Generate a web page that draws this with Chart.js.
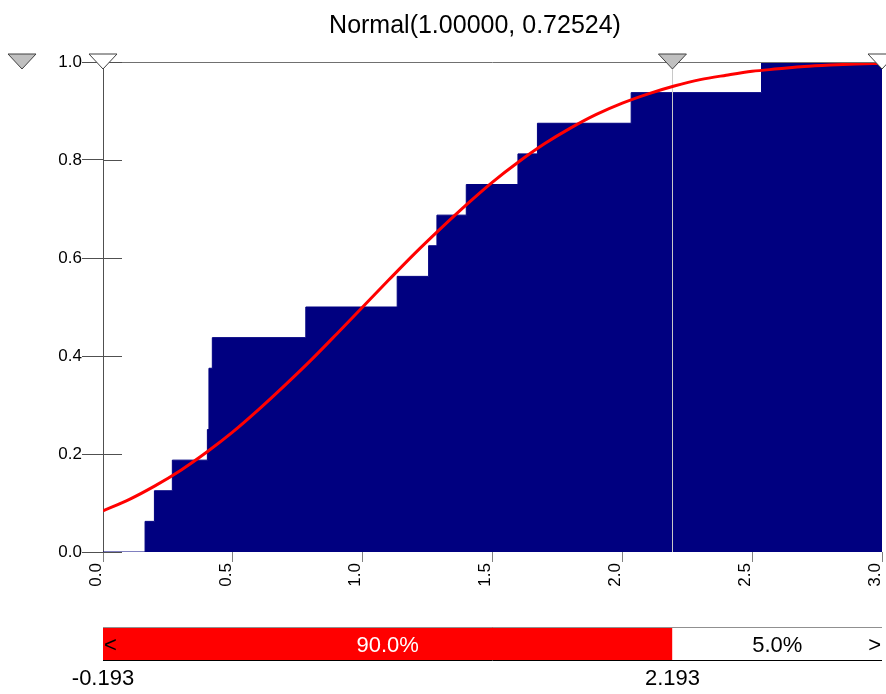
<!DOCTYPE html>
<html lang="en">
<head>
<meta charset="UTF-8">
<title>Normal(1.00000, 0.72524)</title>
<script src="https://cdn.jsdelivr.net/npm/chart.js"></script>
<style>
    body { margin: 0; background: #fff; }
    #wrap { position: relative; width: 886px; height: 694px; }
</style>
</head>
<body>
<div id="wrap"><canvas id="cdf-chart"></canvas></div>
<script>
// Empirical cumulative steps (sorted sample values, cumulative probability)
const stepX = [0.0, 0.162, 0.198, 0.267, 0.402, 0.408, 0.421, 0.781, 1.133, 1.254, 1.286, 1.399, 1.598, 1.673, 2.034, 2.536, 3.0];
const stepY = [0, 0.0625, 0.125, 0.1875, 0.25, 0.375, 0.4375, 0.5, 0.5625, 0.625, 0.6875, 0.75, 0.8125, 0.875, 0.9375, 1.0, 1.0];

// Fitted curve, every 0.1
const fitX = [0.0, 0.1, 0.2, 0.3, 0.4, 0.5, 0.6, 0.7, 0.8, 0.9, 1.0, 1.1, 1.2, 1.3, 1.4, 1.5,
              1.6, 1.7, 1.8, 1.9, 2.0, 2.1, 2.2, 2.3, 2.4, 2.5, 2.6, 2.7, 2.8, 2.9, 3.0];
const fitY = [0.084, 0.107, 0.135, 0.167, 0.204, 0.245, 0.291, 0.340, 0.391, 0.445, 0.500, 0.555, 0.609, 0.660, 0.709, 0.755,
              0.796, 0.833, 0.865, 0.893, 0.916, 0.935, 0.951, 0.964, 0.973, 0.981, 0.986, 0.991, 0.994, 0.996, 0.997];

// Tick values
const xTicks = [0, 0.5, 1.0, 1.5, 2.0, 2.5, 3.0];
const yTicks = [0, 0.2, 0.4, 0.6, 0.8, 1.0];

// Delimiters and the bar below the chart
const delimLeft = -0.193;
const delimRight = 2.193;
const barLabels = ['90.0%', '5.0%'];
const titleText = 'Normal(1.00000, 0.72524)';

const FONT = '"Liberation Sans", Arial, sans-serif';
Chart.defaults.font.family = FONT;
Chart.defaults.color = '#000';

function tri(ctx, cx, top, fill) {
    ctx.beginPath();
    ctx.moveTo(cx - 14, top);
    ctx.lineTo(cx + 14, top);
    ctx.lineTo(cx, top + 15);
    ctx.closePath();
    ctx.fillStyle = fill;
    ctx.fill();
    ctx.strokeStyle = '#404040';
    ctx.lineWidth = 1;
    ctx.stroke();
}

const overlay = {
    id: 'overlay',
    // delimiter line goes under the red curve
    beforeDatasetDraw(chart, args) {
        if (args.index !== 0) return;
        const { ctx, chartArea: { top, bottom }, scales: { x } } = chart;
        const px = Math.round(x.getPixelForValue(delimRight)) + 0.5;
        ctx.save();
        ctx.strokeStyle = '#c8c8c8';
        ctx.lineWidth = 1;
        ctx.beginPath();
        ctx.moveTo(px, top);
        ctx.lineTo(px, bottom);
        ctx.stroke();
        ctx.restore();
    },
    afterDraw(chart) {
        const { ctx, chartArea: { top, right, bottom, left }, scales: { x, y } } = chart;
        ctx.save();

        // top frame line
        ctx.strokeStyle = '#707070';
        ctx.lineWidth = 1;
        ctx.beginPath();
        ctx.moveTo(left, top + 0.5);
        ctx.lineTo(right, top + 0.5);
        ctx.stroke();

        // inner half of the y ticks
        ctx.strokeStyle = '#505050';
        yTicks.forEach(v => {
            const py = Math.round(y.getPixelForValue(v)) + 0.5;
            ctx.beginPath();
            ctx.moveTo(left, py);
            ctx.lineTo(left + 19, py);
            ctx.stroke();
        });

        // triangle markers
        tri(ctx, 22, top - 8, '#c0c0c0');
        tri(ctx, x.getPixelForValue(x.min), top - 8, '#fff');
        tri(ctx, x.getPixelForValue(x.max), top - 8, '#fff');
        tri(ctx, x.getPixelForValue(delimRight), top - 8, '#c0c0c0');

        // title
        ctx.fillStyle = '#000';
        ctx.font = '25px ' + FONT;
        ctx.textAlign = 'center';
        ctx.textBaseline = 'alphabetic';
        ctx.fillText(titleText, 475, 33);

        // delimiter bar
        const barTop = 627, barH = 33;
        const split = x.getPixelForValue(delimRight);
        ctx.fillStyle = '#ff0000';
        ctx.fillRect(left, barTop, split - left, barH);
        ctx.fillStyle = '#fff';
        ctx.fillRect(split, barTop, right - split, barH);
        ctx.strokeStyle = '#909090';
        ctx.beginPath();
        ctx.moveTo(left, barTop + 0.5);
        ctx.lineTo(right, barTop + 0.5);
        ctx.stroke();
        ctx.strokeStyle = '#000';
        ctx.beginPath();
        ctx.moveTo(left, barTop + barH + 0.5);
        ctx.lineTo(right, barTop + barH + 0.5);
        ctx.stroke();

        ctx.font = '22px ' + FONT;
        ctx.fillStyle = '#fff';
        ctx.fillText(barLabels[0], (left + split) / 2, 652);
        ctx.fillStyle = '#000';
        ctx.fillText(barLabels[1], (split + right) / 2, 652);
        ctx.textAlign = 'left';
        ctx.fillText('<', left + 1, 652);
        ctx.textAlign = 'right';
        ctx.fillText('>', right - 1, 652);

        // delimiter values under the bar
        ctx.textAlign = 'center';
        ctx.fillText(delimLeft.toFixed(3), left, 685);
        ctx.fillText(delimRight.toFixed(3), split, 685);

        ctx.restore();
    }
};

new Chart(document.getElementById('cdf-chart'), {
    type: 'scatter',
    data: {
        datasets: [
            {
                label: 'Normal fit',
                data: fitX.map((v, i) => ({ x: v, y: fitY[i] })),
                showLine: true,
                borderColor: '#ff0000',
                borderWidth: 3,
                pointRadius: 0,
                cubicInterpolationMode: 'monotone',
                fill: false
            },
            {
                label: 'Input',
                data: stepX.map((v, i) => ({ x: v, y: stepY[i] })),
                showLine: true,
                stepped: true,
                borderColor: '#000080',
                borderWidth: 1,
                backgroundColor: '#000080',
                pointRadius: 0,
                fill: 'origin'
            }
        ]
    },
    options: {
        responsive: true,
        maintainAspectRatio: false,
        animation: false,
        layout: { padding: { top: 62, right: 4, left: 0, bottom: 0 } },
        plugins: {
            legend: { display: false },
            tooltip: { enabled: false },
            title: { display: false }
        },
        scales: {
            x: {
                type: 'linear',
                min: 0,
                max: 3,
                afterBuildTicks: s => { s.ticks = xTicks.map(v => ({ value: v })); },
                afterFit: s => { s.height = 142; s.paddingLeft = 0; s.paddingRight = 0; },
                ticks: {
                    callback: v => v.toFixed(1),
                    minRotation: 90,
                    maxRotation: 90,
                    padding: 1,
                    labelOffset: -7,
                    font: { size: 17 },
                    color: '#000'
                },
                grid: { drawOnChartArea: false, tickLength: 10, color: '#808080' },
                border: { display: false }
            },
            y: {
                min: 0,
                max: 1,
                afterBuildTicks: s => { s.ticks = yTicks.map(v => ({ value: v })); },
                afterFit: s => { s.width = 103; s.paddingTop = 0; s.paddingBottom = 0; },
                ticks: {
                    callback: v => v.toFixed(1),
                    padding: 0,
                    font: { size: 17 },
                    color: '#000'
                },
                grid: { drawOnChartArea: false, tickLength: 21, color: '#505050' },
                border: { display: true, color: '#505050' }
            }
        }
    },
    plugins: [overlay]
});
</script>
</body>
</html>
